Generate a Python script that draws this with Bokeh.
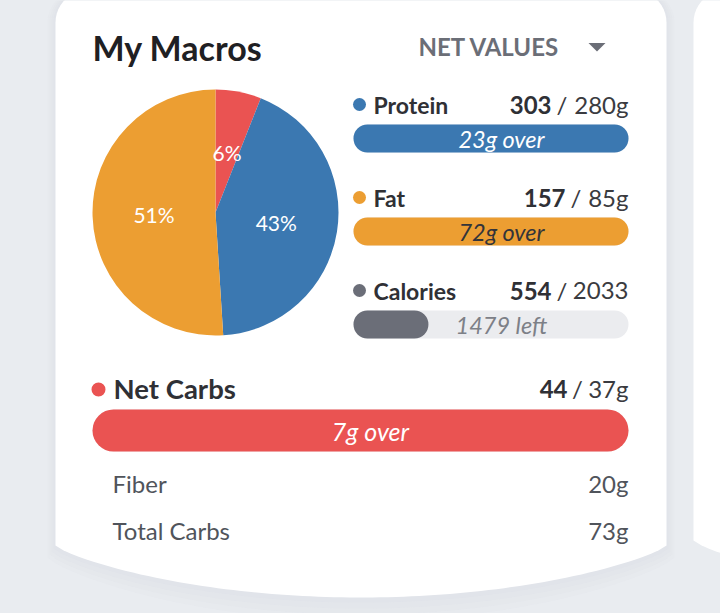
import numpy as np
from bokeh.plotting import figure
from bokeh.models import Range1d
from bokeh.core.properties import value
from bokeh.embed import file_html
from bokeh.resources import INLINE

# ---------------- data ----------------
pie_names = ["Net Carbs", "Protein", "Fat"]
pie_pct = [6, 43, 51]
pie_colors = ["#ea5352", "#3b78b1", "#ec9e32"]

macro_names = ["Protein", "Fat", "Calories"]
macro_current = [303, 157, 554]
macro_target = [280, 85, 2033]
macro_units = ["g", "g", ""]
macro_colors = ["#3b78b1", "#ec9e32", "#6b6e78"]
macro_text_colors = ["#ffffff", "#33343a", "#7d8087"]

carbs_current = 44
carbs_target = 37
fiber = 20
total_carbs = 73

title_text = "My Macros"
mode_text = "NET VALUES"

FONT = "Lato"
W, H = 720, 613


def Y(y):
    return H - y


p = figure(width=W, height=H, output_backend="svg", toolbar_location=None,
           x_range=Range1d(0, W), y_range=Range1d(0, H),
           min_border=0, background_fill_color="#e9ecf0",
           border_fill_color="#e9ecf0", outline_line_color=None)
p.axis.visible = False
p.grid.visible = False


def txt(x, y, s, size, color, style="normal", align="left"):
    p.text(x=[x], y=[Y(y)], text=[s], text_font=value(FONT), text_font_size=f"{size}px",
           text_font_style=style, text_color=color, text_align=align, text_baseline="middle")


# ---------------- card shapes ----------------
def card(x0, x1, top=-10, side_end=545, sag=52, r=32):
    xs, ys = [], []
    t = np.linspace(np.pi, np.pi / 2, 12)
    xs += list(x0 + r + r * np.cos(t)); ys += list(top + r - r * np.sin(t))
    t = np.linspace(np.pi / 2, 0, 12)
    xs += list(x1 - r + r * np.cos(t)); ys += list(top + r - r * np.sin(t))
    bx = np.linspace(x1, x0, 80)
    c = (x0 + x1) / 2
    hw = (x1 - x0) / 2
    u = (bx - c) / hw
    by = side_end + sag * np.clip(1 - u ** 2, 0, 1) ** 0.8
    xs += list(bx); ys += list(by)
    return xs, [Y(v) for v in ys]

for i in range(4):
    sx, sy = card(55 - 2 - 2 * i, 666 + 2 + 2 * i, side_end=548 + 3 * i, sag=54 + 3 * i)
    p.patch(sx, sy, fill_color="#c3c9d4", fill_alpha=0.05, line_color=None)
cx, cy = card(55, 666)
p.patch(cx, cy, fill_color="#ffffff", line_color=None)
cx2, cy2 = card(693, 1304, side_end=540)
p.patch(cx2, cy2, fill_color="#ffffff", line_color=None)

# ---------------- header ----------------
txt(92, 47, title_text, 34, "#1f2023", "bold")
txt(418, 46, mode_text, 24, "#6b6e77", "bold")
p.patch([588, 605, 596.5], [Y(42.5), Y(42.5), Y(51)], fill_color="#6b6e77", line_color=None)

# ---------------- pie ----------------
PCX, PCY, PR = 215, 212, 123
fr = np.array(pie_pct, dtype=float) / sum(pie_pct)
ends = np.pi / 2 - 2 * np.pi * np.cumsum(fr)
starts = np.concatenate([[np.pi / 2], ends[:-1]])
p.wedge(x=PCX, y=Y(PCY), radius=PR, start_angle=list(starts), end_angle=list(ends),
        direction="clock", fill_color=pie_colors, line_color=None)
mids = (starts + ends) / 2
lx = PCX + 0.5 * PR * np.cos(mids)
ly = Y(PCY) + 0.5 * PR * np.sin(mids)
p.text(x=list(lx), y=list(ly), text=[f"{v}%" for v in pie_pct], text_font=value(FONT),
       text_font_size="21px", text_color="#ffffff", text_align="center", text_baseline="middle")

# ---------------- macro rows ----------------
BX0, BW, BH = 353, 275, 28
row_mid = [104, 197, 290]
num_right = [551, 565, 551]
for i, name in enumerate(macro_names):
    ym = row_mid[i]
    cur, tgt = macro_current[i], macro_target[i]
    p.scatter(x=[359], y=[Y(ym)], size=13, marker="circle", fill_color=macro_colors[i], line_color=None)
    txt(373, ym, name, 23, "#2f3035", "bold")
    txt(628, ym, f"{tgt}{macro_units[i]}", 24, "#3a3b40", align="right")
    txt(num_right[i] + 10.5, ym, "/", 24, "#3a3b40", align="center")
    txt(num_right[i], ym, f"{cur}", 24, "#2f3035", "bold", align="right")
    bar_top = ym + 20
    bc = Y(bar_top + BH / 2)
    frac = min(cur / tgt, 1.0)
    p.hbar(y=[bc], left=[BX0], right=[BX0 + BW], height=BH, fill_color="#ebecef",
           line_color=None, border_radius=BH // 2)
    p.hbar(y=[bc], left=[BX0], right=[BX0 + BW * frac], height=BH, fill_color=macro_colors[i],
           line_color=None, border_radius=BH // 2)
    diff = cur - tgt
    label = f"{diff}{macro_units[i]} over" if diff > 0 else f"{-diff}{macro_units[i]} left"
    txt(501, bar_top + BH / 2, label, 23.5, macro_text_colors[i], "italic", "center")

# ---------------- net carbs ----------------
p.scatter(x=[98], y=[Y(389)], size=14, marker="circle", fill_color="#ea5352", line_color=None)
txt(113, 388, "Net Carbs", 27.5, "#2f3035", "bold")
txt(628, 388, f"{carbs_target}g", 24, "#3a3b40", align="right")
txt(577, 388, "/", 24, "#3a3b40", align="center")
txt(567, 388, f"{carbs_current}", 24, "#2f3035", "bold", align="right")
CB0, CBW, CBH = 92, 536, 42
cb_mid = 409 + CBH / 2
cfrac = min(carbs_current / carbs_target, 1.0)
p.hbar(y=[Y(cb_mid)], left=[CB0], right=[CB0 + CBW], height=CBH, fill_color="#ebecef",
       line_color=None, border_radius=CBH // 2)
p.hbar(y=[Y(cb_mid)], left=[CB0], right=[CB0 + CBW * cfrac], height=CBH, fill_color="#ea5352",
       line_color=None, border_radius=CBH // 2)
cdiff = carbs_current - carbs_target
txt(370, cb_mid, f"{cdiff}g over" if cdiff > 0 else f"{-cdiff}g left", 25, "#ffffff", "italic", "center")

# ---------------- fiber / total ----------------
for lab, v, ym in [("Fiber", fiber, 482.5), ("Total Carbs", total_carbs, 529.5)]:
    txt(112, ym, lab, 24, "#50545b")
    txt(628, ym, f"{v}g", 24, "#50545b", align="right")

html = file_html(p, INLINE)
html = html.replace("</head>", "<style>body{background:#e9ecf0;}</style></head>", 1)
open("out.html", "w").write(html)
